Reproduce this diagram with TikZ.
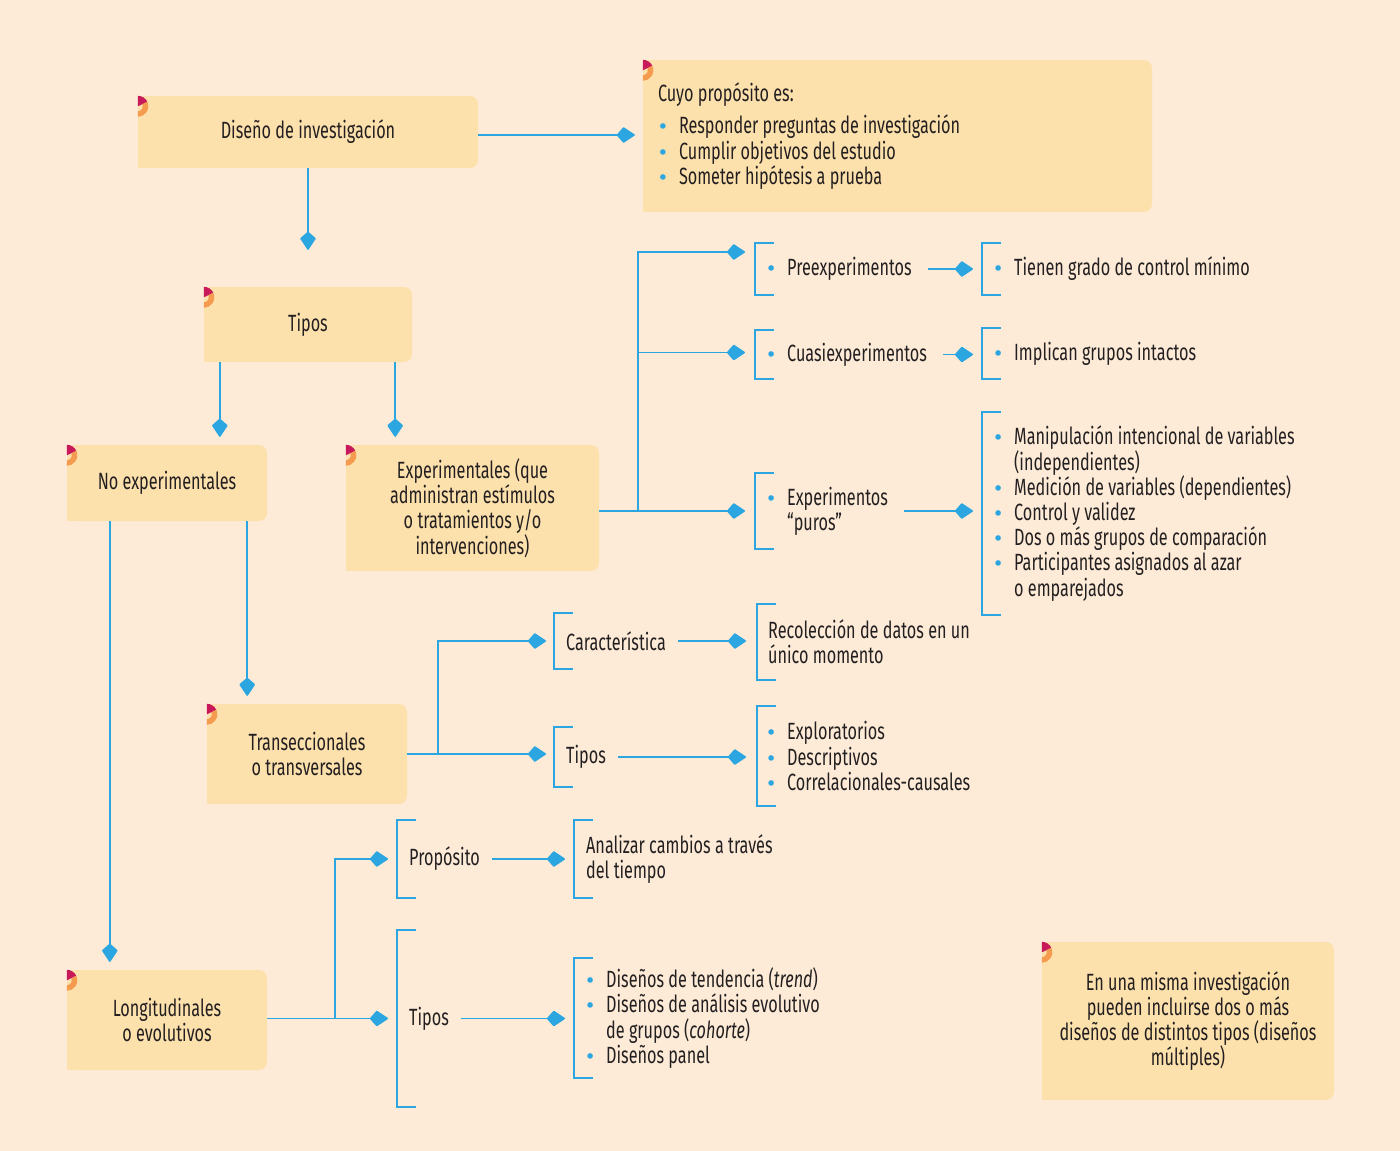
\documentclass[tikz,border=0pt]{standalone}
\usepackage{fontspec}
\setmainfont{Fira Sans}[FakeStretch=0.69]
\newfontfamily\bulfont{DejaVu Sans}
\usetikzlibrary{arrows.meta}
\definecolor{fondo}{HTML}{FDEBD8}
\definecolor{cajafill}{HTML}{FDE1AD}
\definecolor{azul}{HTML}{2CA6E0}
\definecolor{rojo}{HTML}{C81A5B}
\definecolor{naranja}{HTML}{F59B4F}
\definecolor{texto}{HTML}{231F20}
\newcommand\bul{\makebox[0pt][c]{\textcolor{azul}{\bulfont\fontsize{19}{19}\selectfont •}}\hspace*{16pt}}
\newcommand\sig{\hspace*{16pt}}

\begin{document}
\begin{tikzpicture}[
        x=1pt, y=1pt,
        every node/.style = {text=texto, font=\fontsize{23.5}{25.2}\selectfont},
        caja/.style = {fill=cajafill, rounded corners=8pt, align=center, inner sep=0pt},
        corchete/.style 2 args = {anchor=west, align=left, inner ysep=0pt, inner xsep=#2, minimum height=#1},
        flecha/.style = {draw=azul, line width=1.6pt, -{Kite[length=19pt,width=16pt,inset=7pt,round]}},
        raya/.style = {draw=azul, line width=1.8pt}
        ]
        \fill[fondo] (0,0) rectangle (1400,-1151);
        \useasboundingbox (0,0) rectangle (1400,-1151);

        % cajas
        \node[caja, minimum width=340, minimum height=72] (diseno) at (308,-132) {Diseño de investigación};
        \node[caja, minimum width=509, minimum height=152, text width=479, align=flush left] (prop) at (897.5,-136)
            {Cuyo propósito es:\\[7pt]
             \hspace*{5pt}\bul Responder preguntas de investigación\\
             \hspace*{5pt}\bul Cumplir objetivos del estudio\\
             \hspace*{5pt}\bul Someter hipótesis a prueba};
        \node[caja, minimum width=208, minimum height=75] (tipos) at (308,-324.5) {Tipos};
        \node[caja, minimum width=200, minimum height=76] (nox) at (167,-483) {No experimentales};
        \node[caja, minimum width=253, minimum height=126] (exp) at (472.5,-508)
            {Experimentales (que\\administran estímulos\\o tratamientos y/o\\intervenciones)};
        \node[caja, minimum width=200, minimum height=100] (tra) at (307,-754) {Transeccionales\\o transversales};
        \node[caja, minimum width=200, minimum height=100] (lon) at (167,-1020) {Longitudinales\\o evolutivos};
        \node[caja, minimum width=292, minimum height=158] (nota) at (1188,-1021)
            {En una misma investigación\\pueden incluirse dos o más\\diseños de distintos tipos (diseños\\múltiples)};

        % esquinas
        \foreach \b in {diseno,prop,tipos,nox,exp,tra,lon,nota} {
            \fill[cajafill] (\b.north west) rectangle ([xshift=12]\b.south west);
            \coordinate (c) at ([yshift=-10.5]\b.north west);
            \fill[rojo] (c) -- ++(0,10.5) arc[start angle=90, end angle=25, radius=10.5] -- cycle;
            \fill[naranja] (c) ++(25:10.5) arc[start angle=25, end angle=-90, radius=10.5]
                -- ++(0,5.5) arc[start angle=-90, end angle=25, radius=5] -- cycle;
        }

        % corchetes
        \node[corchete={52}{16}] (pre) at (755,-269) {\bul Preexperimentos};
        \node[corchete={52}{16}] (ten) at (982,-269) {\bul Tienen grado de control mínimo};
        \node[corchete={49}{16}] (cua) at (755,-354.5) {\bul Cuasiexperimentos};
        \node[corchete={51}{16}] (imp) at (982,-353.5) {\bul Implican grupos intactos};
        \node[corchete={76}{16}] (pur) at (755,-511) {\bul Experimentos\\\sig “puros”};
        \node[corchete={203}{16}] (man) at (982,-513.5)
            {\bul Manipulación intencional de variables\\\sig(independientes)\\
             \bul Medición de variables (dependientes)\\\bul Control y validez\\
             \bul Dos o más grupos de comparación\\\bul Participantes asignados al azar\\
             \sig o emparejados};
        \node[corchete={56}{12}] (car) at (554,-641) {Característica};
        \node[corchete={60}{12}] (ti2) at (554,-757) {Tipos};
        \node[corchete={76}{11}] (rec) at (757,-642) {Recolección de datos en un\\único momento};
        \node[corchete={100}{14}] (exl) at (757,-756)
            {\bul Exploratorios\\\bul Descriptivos\\\bul Correlacionales-causales};
        \node[corchete={78}{12}] (pro) at (397,-859) {Propósito};
        \node[corchete={78}{12}] (ana) at (574,-859) {Analizar cambios a través\\del tiempo};
        \node[corchete={177}{12}] (ti3) at (397,-1018.5) {Tipos};
        \node[corchete={120}{16}] (dis) at (574,-1018)
            {\bul Diseños de tendencia (\textit{trend})\\\bul Diseños de análisis evolutivo\\
             \sig de grupos (\textit{cohorte})\\\bul Diseños panel};

        \foreach \n in {pre,ten,cua,imp,pur,man,car,ti2,rec,exl,pro,ana,ti3,dis}
            \draw[raya] ([xshift=19]\n.north west) -| (\n.south west) -- ++(19,0);

        % flechas
        \coordinate (d1) at ([yshift=-3]diseno.east);
        \draw[flecha, shorten >=8] (d1) -- (d1 -| prop.west);
        \draw[flecha, shorten >=37] (diseno) -- (tipos);
        \coordinate (t1) at ([xshift=16]tipos.south west);
        \coordinate (t2) at ([xshift=-17]tipos.south east);
        \draw[flecha, shorten >=8] (t1) -- (t1 |- nox.north);
        \draw[flecha, shorten >=8] (t2) -- (t2 |- exp.north);

        \coordinate (r1) at (638,-511);
        \draw[flecha, shorten >=10] (exp.east |- pur.west) -- (pur.west);
        \draw[flecha, shorten >=10] (r1) |- ([yshift=17]pre.west);
        \draw[flecha, shorten >=10] (r1) |- ([yshift=2]cua.west);
        \draw[flecha, shorten >=9] (pre) -- (ten);
        \draw[flecha, shorten >=9] (cua.east) -- (cua.east -| imp.west);
        \draw[flecha, shorten >=9] (pur.east) -- (pur.east -| man.west);

        \coordinate (n1) at ([xshift=-20]nox.south east);
        \coordinate (n2) at ([xshift=43]nox.south west);
        \draw[flecha, shorten >=8] (n1) -- (n1 |- tra.north);
        \draw[flecha, shorten >=8] (n2) -- (n2 |- lon.north);

        \coordinate (r2) at (438,-754);
        \draw[flecha, shorten >=8] (tra) -- (tra -| ti2.west);
        \draw[flecha, shorten >=8] (r2) |- (car.west);
        \draw[flecha, shorten >=11] (car) -- (car -| rec.west);
        \draw[flecha, shorten >=11] (ti2) -- (ti2 -| exl.west);

        \coordinate (r3) at (335,-1018.5);
        \draw[flecha, shorten >=9] (lon.east |- ti3.west) -- (ti3.west);
        \draw[flecha, shorten >=9] (r3) |- (pro.west);
        \draw[flecha, shorten >=9] (pro) -- (pro -| ana.west);
        \draw[flecha, shorten >=9] (ti3) -- (ti3 -| dis.west);
\end{tikzpicture}
\end{document}
